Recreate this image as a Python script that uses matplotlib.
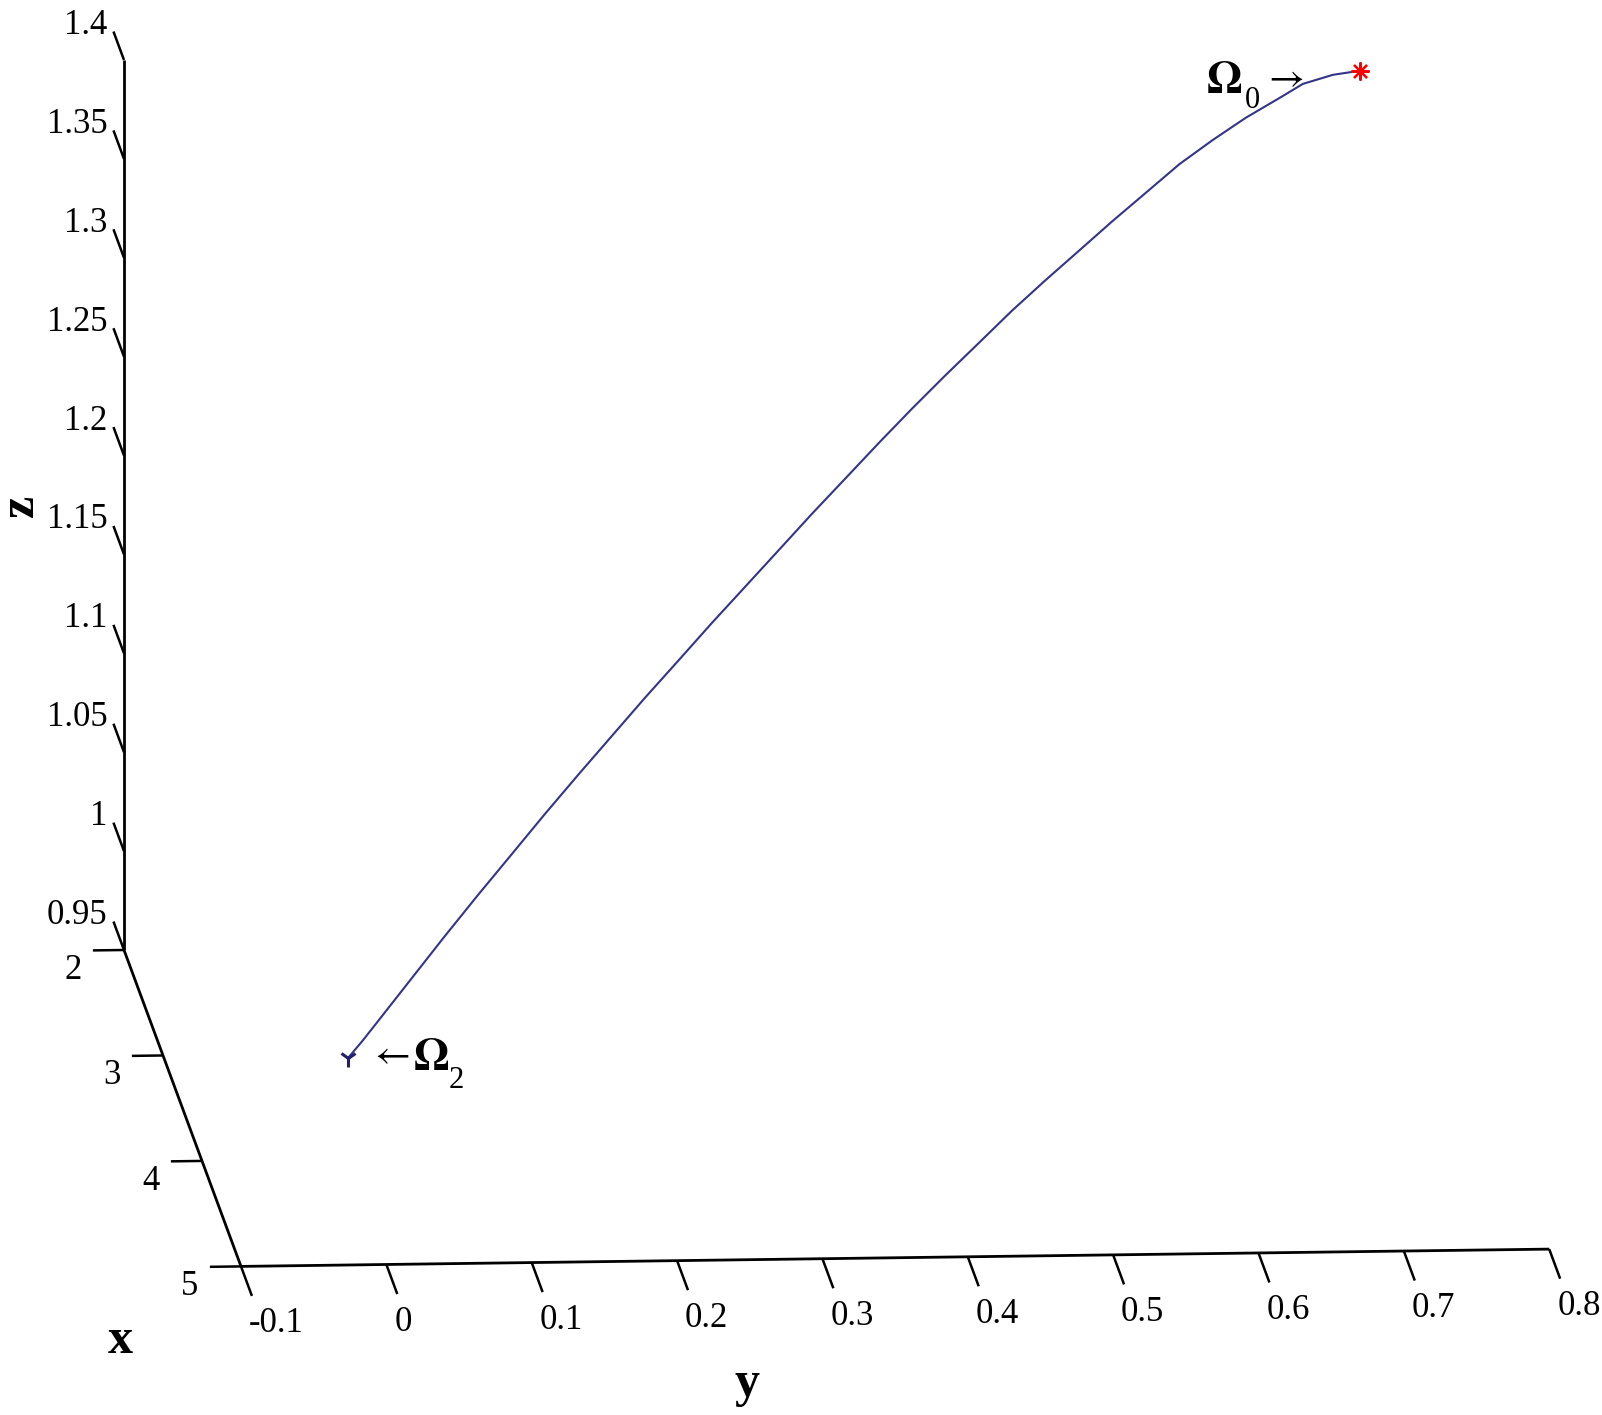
import numpy as np
import matplotlib
matplotlib.use("Agg")
import matplotlib.pyplot as plt
from mpl_toolkits.mplot3d import proj3d

# --- Datos, de Omega_0 a Omega_2 ---
traj_x = [2.00, 2.02, 2.04, 2.06, 2.09, 2.12, 2.15, 2.19, 2.22, 2.26, 2.29,
          2.33, 2.36, 2.40, 2.43, 2.47, 2.51, 2.54, 2.58, 2.62, 2.65, 2.69,
          2.72, 2.76, 2.80, 2.83, 2.87, 2.90, 2.93, 2.96, 2.98, 2.99, 3.00]
traj_y = [0.7503, 0.7312, 0.7100, 0.6936, 0.6693, 0.6458, 0.6222, 0.5977,
          0.5741, 0.5503, 0.5261, 0.5022, 0.4787, 0.4542, 0.4306, 0.4068,
          0.3823, 0.3587, 0.3349, 0.3104, 0.2868, 0.2630, 0.2387, 0.2149,
          0.1911, 0.1668, 0.1430, 0.1194, 0.0952, 0.0716, 0.0483, 0.0377,
          0.0271]
traj_z = [1.3863, 1.3855, 1.3822, 1.3764, 1.3681, 1.3587, 1.3484, 1.3361,
          1.3237, 1.3113, 1.2980, 1.2851, 1.2707, 1.2564, 1.2415, 1.2266,
          1.2107, 1.1948, 1.1789, 1.1625, 1.1461, 1.1297, 1.1123, 1.0954,
          1.0785, 1.0600, 1.0421, 1.0237, 1.0042, 0.9847, 0.9647, 0.9557,
          0.9473]

x_ticks = [2, 3, 4, 5]
x_labels = ['2', '3', '4', '5']
y_ticks = [-0.1, 0.0, 0.1, 0.2, 0.3, 0.4, 0.5, 0.6, 0.7, 0.8]
y_labels = ['-0.1', '0', '0.1', '0.2', '0.3', '0.4', '0.5', '0.6', '0.7', '0.8']
z_ticks = [0.95, 1.0, 1.05, 1.1, 1.15, 1.2, 1.25, 1.3, 1.35, 1.4]
z_labels = ['0.95', '1', '1.05', '1.1', '1.15', '1.2', '1.25', '1.3', '1.35', '1.4']

# --- Configuracion ---
W, H = 1602, 1415
plt.rcParams['font.family'] = ['Liberation Serif', 'DejaVu Serif']
plt.rcParams['mathtext.fontset'] = 'stix'

fig = plt.figure(figsize=(W / 100, H / 100), dpi=100)
ax = fig.add_subplot(projection='3d', proj_type='ortho')
xmin, xmax = x_ticks[0], x_ticks[-1]
ymin, ymax = y_ticks[0], y_ticks[-1]
zmin, zmax = z_ticks[0], z_ticks[-1]
ax.set_xlim(xmin, xmax)
ax.set_ylim(ymin, ymax)
ax.set_zlim(zmin, zmax)
ax.view_init(elev=10.9, azim=-4.0)
ax.set_box_aspect((1673, 1308, 904))
ax.set_axis_off()

AX = dict(color='black', lw=2.0, solid_capstyle='butt')
TK = dict(color='black', lw=1.8, solid_capstyle='butt')

# ejes
ax.plot([xmin, xmin], [ymin, ymin], [zmin, zmax], **AX)
ax.plot([xmin, xmax], [ymin, ymin], [zmin, zmin], **AX)
ax.plot([xmax, xmax], [ymin, ymax], [zmin, zmin], **AX)

# marcas
for z in z_ticks:
    ax.plot([xmin, xmin - 0.27], [ymin, ymin], [z, z], **TK)
for x in x_ticks:
    ax.plot([x, x], [ymin, ymin - 0.0214], [zmin, zmin], **TK)
for y in y_ticks:
    ax.plot([xmax, xmax + 0.28], [y, y], [zmin, zmin], **TK)

# trayectoria
ax.plot(traj_x, traj_y, traj_z, color='#34348a', lw=1.5)
ax.plot([traj_x[0]], [traj_y[0]], [traj_z[0]], marker=(8, 2, 0), color='red',
        ms=13, mew=1.6, ls='none')
ax.plot([traj_x[-1]], [traj_y[-1]], [traj_z[-1]], marker='1', color='#20206e',
        ms=13, mew=2.2, ls='none')


def to_disp(x, y, z):
    xs, ys, _ = proj3d.proj_transform(np.atleast_1d(np.asarray(x, float)),
                                      np.atleast_1d(np.asarray(y, float)),
                                      np.atleast_1d(np.asarray(z, float)), ax.M)
    return ax.transData.transform(np.column_stack([xs, ys]))


# --- Ajuste de la posicion del eje para que la caja caiga donde debe ---
side = 1200.0
ax.set_position([200 / W, 100 / H, side / W, side / H])
fig.canvas.draw()
a = to_disp(xmin, ymin, zmin)[0]
b = to_disp(xmin, ymin, zmax)[0]
ta = np.array([124.0, H - 950.0])
tb = np.array([124.0, H - 60.0])
s = (tb[1] - ta[1]) / (b[1] - a[1])
c = np.array([200 + side / 2, 100 + side / 2])
a_new = c + s * (a - c)
shift = ta - a_new
new_side = side * s
l = c[0] - new_side / 2 + shift[0]
bt = c[1] - new_side / 2 + shift[1]
ax.set_position([l / W, bt / H, new_side / W, new_side / H])
fig.canvas.draw()


def put(p, dx, dy, txt, **kw):
    fig.text((p[0] + dx) / W, (p[1] + dy) / H, txt, **kw)


# etiquetas de marcas
for z, lab in zip(z_ticks, z_labels):
    p = to_disp(xmin - 0.27, ymin, z)[0]
    put(p, -6, -2.5, lab, fontsize=25, ha='right', va='baseline')
for x, lab in zip(x_ticks, x_labels):
    p = to_disp(x, ymin - 0.0214, zmin)[0]
    put(p, -20, -28.5, lab, fontsize=25, ha='center', va='baseline')
for y, lab in zip(y_ticks, y_labels):
    p = to_disp(xmax + 0.28, y, zmin)[0]
    put(p, -3, -36.5, lab, fontsize=25, ha='left', va='baseline')

# nombres de ejes
fig.text(120 / W, (H - 1353) / H, 'x', fontsize=36, fontweight='bold',
         ha='center', va='baseline')
fig.text(747 / W, (H - 1396) / H, 'y', fontsize=36, fontweight='bold',
         ha='center', va='baseline')
fig.text(33 / W, (H - 506) / H, 'z', fontsize=36, fontweight='bold',
         rotation=90, rotation_mode='anchor', ha='center', va='baseline')

# Omega_0 y Omega_2
p0 = to_disp(traj_x[0], traj_y[0], traj_z[0])[0]
put(p0, -154, -22, r'$\mathbf{\Omega}$', fontsize=33, ha='left', va='baseline')
put(p0, -115, -37, '0', fontsize=22, ha='left', va='baseline')
put(p0, -77, -16, r'$\rightarrow$', fontsize=28, ha='center', va='baseline')
p2 = to_disp(traj_x[-1], traj_y[-1], traj_z[-1])[0]
put(p2, 42, -6, r'$\leftarrow$', fontsize=28, ha='center', va='baseline')
put(p2, 65, -12, r'$\mathbf{\Omega}$', fontsize=33, ha='left', va='baseline')
put(p2, 101, -30, '2', fontsize=22, ha='left', va='baseline')

fig.savefig('out.png', dpi=100)
